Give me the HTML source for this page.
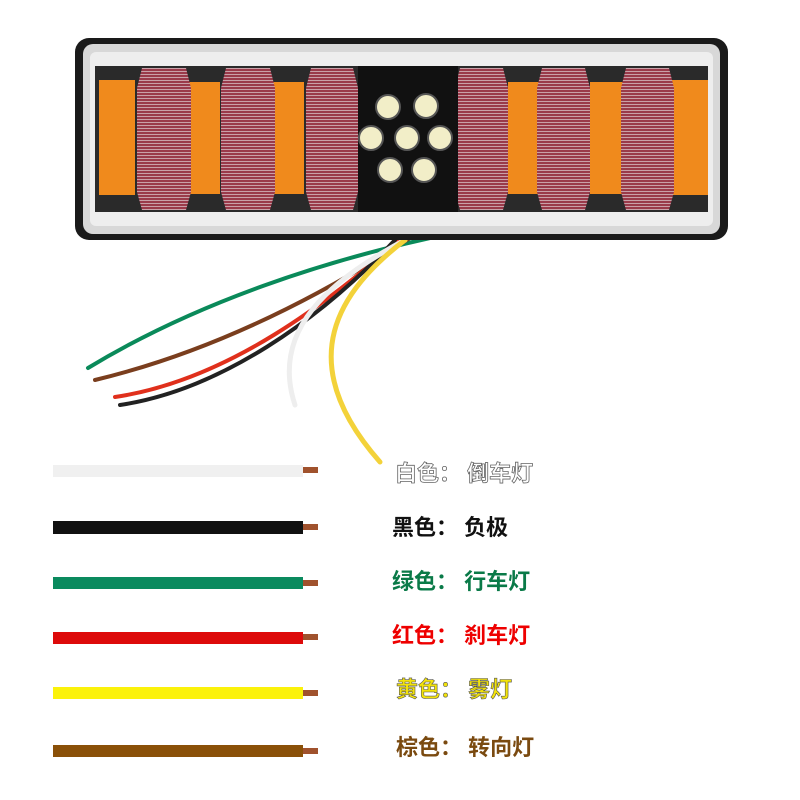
<!DOCTYPE html>
<html><head><meta charset="utf-8"><style>
body{margin:0;background:#fff;width:800px;height:800px;overflow:hidden}
svg{display:block}
text{font-family:"Liberation Sans","Noto Sans CJK SC",sans-serif;font-weight:bold;font-size:22px}
</style></head><body>
<svg width="800" height="800" viewBox="0 0 800 800">
<defs>
<pattern id="st" width="4" height="3" patternUnits="userSpaceOnUse">
<rect width="4" height="3" fill="#9a3a4a"/><rect y="2" width="4" height="1" fill="#c9a0a8"/></pattern>
</defs>
<g fill="none" stroke-width="4" stroke-linecap="round">
<path d="M430 238 C330 260 200 300 88 368" stroke="#0a8a5a"/>
<path d="M410 238 C330 290 220 350 95 380" stroke="#7a3e1e"/>
<path d="M400 240 C330 300 230 380 115 397" stroke="#e0301c"/>
<path d="M395 240 C320 320 220 390 120 405" stroke="#222"/>
<path d="M405 240 C330 280 270 330 295 405" stroke="#eee" stroke-width="5"/>
<path d="M405 240 C340 290 290 360 380 462" stroke="#f3d23a" stroke-width="5"/>
</g>
<rect x="75" y="38" width="653" height="202" rx="14" fill="#1a1a1a"/>
<rect x="83" y="44" width="637" height="190" rx="10" fill="#d8d8d8"/>
<rect x="90" y="52" width="623" height="174" rx="6" fill="#eee"/>
<rect x="95" y="66" width="613" height="146" fill="#2a2a2a"/>
<g fill="#f08a1c">
<rect x="99" y="80" width="36" height="115"/><rect x="184" y="82" width="36" height="112"/>
<rect x="268" y="82" width="36" height="112"/><rect x="508" y="82" width="36" height="112"/>
<rect x="590" y="82" width="36" height="112"/><rect x="672" y="80" width="36" height="115"/>
</g>
<g fill="url(#st)">
<polygon points="142,68 186,68 191,88 191,192 186,210 142,210 137,192 137,88"/>
<polygon points="226,68 270,68 275,88 275,192 270,210 226,210 221,192 221,88"/>
<polygon points="311,68 353,68 358,88 358,192 353,210 311,210 306,192 306,88"/>
<polygon points="460,68 503,68 508,88 508,192 503,210 460,210 455,192 455,88"/>
<polygon points="542,68 585,68 590,88 590,192 585,210 542,210 537,192 537,88"/>
<polygon points="626,68 669,68 674,88 674,192 669,210 626,210 621,192 621,88"/>
</g>
<rect x="358" y="66" width="100" height="146" fill="#111"/>
<g fill="#f2eec8" stroke="#555" stroke-width="2">
<circle cx="388" cy="107" r="12"/><circle cx="426" cy="106" r="12"/>
<circle cx="371" cy="138" r="12"/><circle cx="407" cy="138" r="12"/><circle cx="440" cy="138" r="12"/>
<circle cx="390" cy="170" r="12"/><circle cx="424" cy="170" r="12"/>
</g>
<g>
<rect x="53" y="465" width="250" height="12" fill="#f0f0f0"/>
<rect x="53" y="521" width="250" height="13" fill="#111"/>
<rect x="53" y="577" width="250" height="12" fill="#0a8a5e"/>
<rect x="53" y="632" width="250" height="12" fill="#dd0a0a"/>
<rect x="53" y="687" width="250" height="12" fill="#fbf20a"/>
<rect x="53" y="745" width="250" height="12" fill="#8a5008"/>
</g>
<g fill="#a0522d">
<rect x="303" y="467" width="15" height="6"/><rect x="303" y="524" width="15" height="6"/>
<rect x="303" y="580" width="15" height="6"/><rect x="303" y="634" width="15" height="6"/>
<rect x="303" y="690" width="15" height="6"/><rect x="303" y="748" width="15" height="6"/>
</g>
<text x="395" y="481" fill="#fff" stroke="#666" stroke-width="0.8">白色： 倒车灯</text>
<text x="392" y="535" fill="#111">黑色： 负极</text>
<text x="392" y="589" fill="#0a7a48">绿色： 行车灯</text>
<text x="392" y="643" fill="#e00">红色： 刹车灯</text>
<text x="396" y="697" fill="#f3e30a" stroke="#555" stroke-width="0.6">黄色： 雾灯</text>
<text x="396" y="755" fill="#7a4a10">棕色： 转向灯</text>
</svg>
</body></html>
